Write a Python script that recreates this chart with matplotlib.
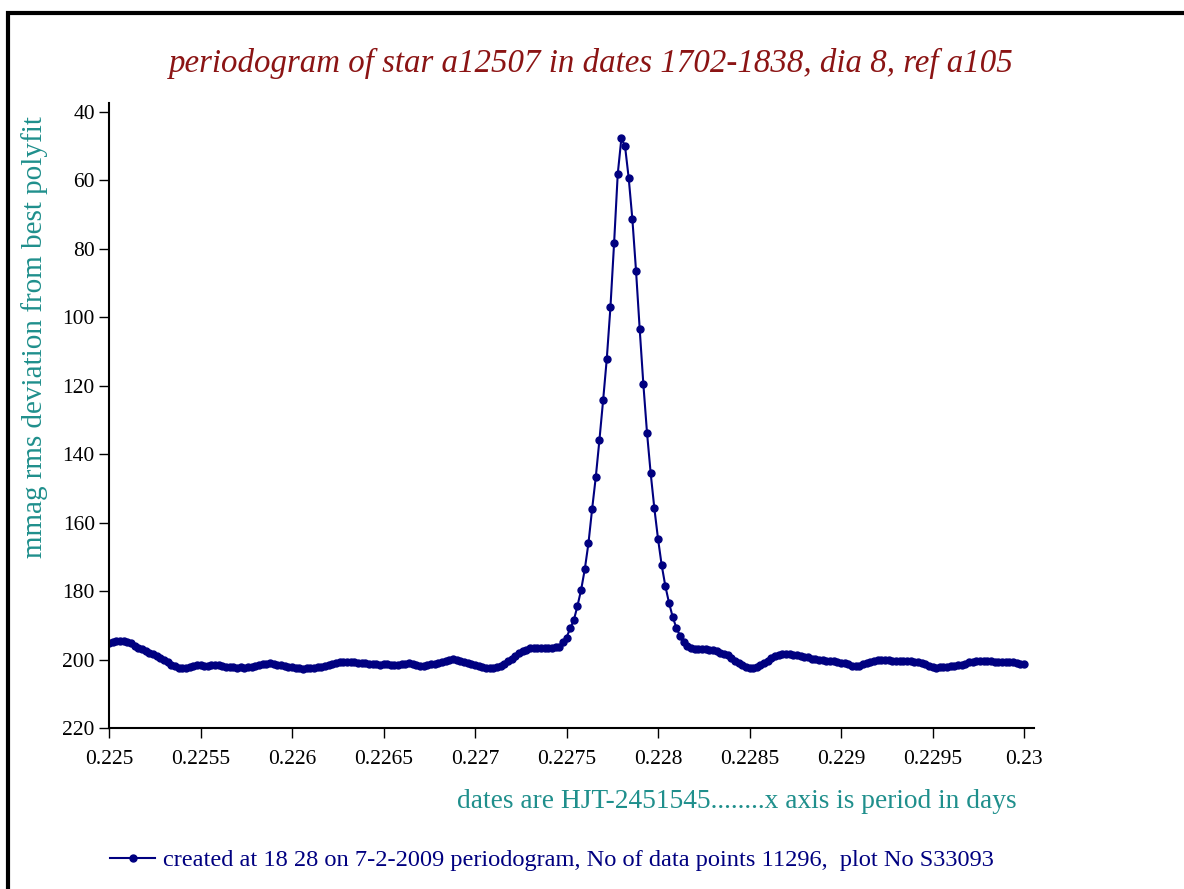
import numpy as np
import matplotlib
matplotlib.use("Agg")
import matplotlib.pyplot as plt
from matplotlib.patches import Rectangle

# period grid (days) and rms deviation (mmag)
period_start = 0.225
period_stop = 0.23
n_points = 251
rms = [
    195.2, 194.8, 194.7, 194.6, 194.7, 194.9, 195.3, 195.9, 196.5, 197.0,
    197.6, 198.0, 198.5, 199.0, 199.5, 200.1, 200.8, 201.5, 202.0, 202.4,
    202.5, 202.4, 202.3, 202.0, 201.7, 201.6, 201.8, 201.9, 201.7, 201.6,
    201.7, 201.9, 202.1, 202.3, 202.3, 202.4, 202.3, 202.4, 202.3, 202.1,
    201.8, 201.5, 201.3, 201.2, 201.1, 201.2, 201.5, 201.7, 201.9, 202.1,
    202.3, 202.5, 202.6, 202.7, 202.6, 202.6, 202.4, 202.3, 202.1, 201.9,
    201.6, 201.3, 200.9, 200.8, 200.7, 200.6, 200.6, 200.7, 200.9, 200.9,
    201.0, 201.2, 201.3, 201.4, 201.5, 201.4, 201.4, 201.5, 201.6, 201.6,
    201.4, 201.2, 201.1, 201.3, 201.6, 201.9, 201.8, 201.6, 201.4, 201.2,
    200.9, 200.6, 200.3, 200.0, 199.9, 200.0, 200.3, 200.6, 201.0, 201.4,
    201.7, 202.0, 202.2, 202.4, 202.6, 202.6, 202.3, 201.8, 201.2, 200.5,
    199.8, 199.0, 198.2, 197.6, 197.1, 196.7, 196.5, 196.5, 196.6, 196.6,
    196.5, 196.6, 196.4, 196.2, 194.8, 193.6, 190.9, 188.5, 184.3, 179.6,
    173.6, 166.0, 156.0, 146.7, 135.8, 124.3, 112.2, 97.1, 78.4, 58.1,
    47.7, 50.1, 59.4, 71.4, 86.5, 103.5, 119.6, 133.8, 145.6, 155.8,
    164.7, 172.4, 178.5, 183.4, 187.5, 190.7, 193.0, 194.8, 196.0, 196.7,
    196.9, 196.9, 197.0, 197.0, 197.1, 197.3, 197.6, 198.0, 198.4, 198.8,
    199.6, 200.4, 201.1, 201.7, 202.1, 202.5, 202.6, 202.2, 201.6, 201.0,
    200.3, 199.6, 199.0, 198.6, 198.4, 198.4, 198.5, 198.6, 198.8, 199.0,
    199.2, 199.4, 199.7, 199.9, 200.1, 200.2, 200.4, 200.4, 200.5, 200.6,
    200.9, 201.1, 201.4, 201.8, 202.0, 201.8, 201.4, 201.1, 200.7, 200.3,
    200.1, 200.1, 200.1, 200.2, 200.4, 200.4, 200.5, 200.4, 200.4, 200.5,
    200.6, 200.8, 201.1, 201.4, 201.8, 202.1, 202.4, 202.3, 202.1, 202.1,
    202.0, 201.8, 201.7, 201.5, 201.2, 200.8, 200.6, 200.5, 200.4, 200.4,
    200.5, 200.4, 200.6, 200.6, 200.7, 200.7, 200.8, 200.8, 201.0, 201.2, 201.4,
]
x_ticks = [0.225, 0.2255, 0.226, 0.2265, 0.227, 0.2275, 0.228, 0.2285, 0.229, 0.2295, 0.23]
x_ticklabels = ["0.225", "0.2255", "0.226", "0.2265", "0.227", "0.2275",
                "0.228", "0.2285", "0.229", "0.2295", "0.23"]
y_ticks = [40, 60, 80, 100, 120, 140, 160, 180, 200, 220]

title = "periodogram of star a12507 in dates 1702-1838, dia 8, ref a105"
ylabel = "mmag rms deviation from best polyfit"
xnote = "dates are HJT-2451545........x axis is period in days"
series_label = "created at 18 28 on 7-2-2009 periodogram, No of data points 11296,  plot No S33093"

period = np.linspace(period_start, period_stop, n_points)

plt.rcParams["font.family"] = ["Liberation Serif", "DejaVu Serif"]

fig = plt.figure(figsize=(11.84, 8.89), dpi=100)
ax = fig.add_axes([109 / 1184, 161 / 889, 925 / 1184, 625 / 889])

navy = "#000080"
teal = "#1f8f8c"
red = "#8b1414"

line, = ax.plot(period, rms, color=navy, lw=1.5, marker="o", ms=5,
                mec=navy, mfc=navy, label=series_label)

ax.set_xlim(0.225, 0.23 + 0.0000546)
ax.set_ylim(220, 37.4)
ax.set_xticks(x_ticks)
ax.set_xticklabels(x_ticklabels)
ax.set_yticks(y_ticks)
ax.tick_params(direction="out", length=7.2, width=1, labelsize=15.5, colors="black")
ax.tick_params(axis="x", pad=9)
ax.tick_params(axis="y", pad=3)
for s in ["top", "right"]:
    ax.spines[s].set_visible(False)
for s in ["left", "bottom"]:
    ax.spines[s].set_linewidth(1.5)

fig.text(591 / 1184, 1 - 63 / 889, title, ha="center", va="center",
         fontsize=23.7, style="italic", color=red)
fig.text(35 / 1184, 1 - 337 / 889, ylabel, ha="center", va="center",
         rotation=90, fontsize=21, color=teal)
fig.text(1017 / 1184, 1 - 802 / 889, xnote, ha="right", va="center",
         fontsize=19.7, color=teal)

leg = fig.legend(handles=[line], loc="center left", bbox_to_anchor=(110 / 1184, 1 - 860 / 889),
                 frameon=False, fontsize=17.6, handlelength=1.85, handletextpad=0.3,
                 borderaxespad=0, borderpad=0)
for t in leg.get_texts():
    t.set_color(navy)

# frame that shows only on the left and top edges
fig.patches.append(Rectangle((8 / 1184, -0.2), 1.5, 1.2 - 13 / 889, transform=fig.transFigure,
                             fill=False, lw=3, edgecolor="black"))

fig.savefig("out.png", dpi=100)
